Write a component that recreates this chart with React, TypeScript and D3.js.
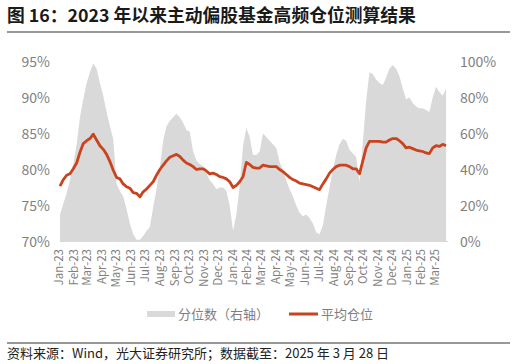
import React from "react";
import * as d3 from "d3";

// ---- data (weekly readings, Tue 2023-01-03 … Tue 2025-03-25) ----
const startDate = new Date(2023, 0, 3);
const weekDates: Date[] = d3.range(117).map((i) => d3.timeDay.offset(startDate, 7 * i));

// 平均仓位 (left axis, %)
const avgPosition: number[] = [
  77.7, 78.6, 79.2, 79.4, 80.1, 80.9, 82.4, 83.6, 84.0, 84.3,
  84.9, 84.1, 83.3, 82.8, 82.1, 81.1, 79.9, 78.9, 78.7, 78.0,
  77.6, 77.4, 76.8, 76.7, 76.2, 76.9, 77.3, 77.8, 78.3, 79.2,
  80.0, 80.6, 81.2, 81.7, 81.9, 82.1, 81.8, 81.3, 80.9, 80.7,
  80.4, 80.0, 80.1, 80.1, 79.8, 79.4, 79.5, 79.3, 79.0, 78.9,
  78.7, 78.3, 77.5, 77.8, 78.3, 79.0, 81.0, 80.7, 80.3, 80.2,
  80.2, 80.6, 80.5, 80.4, 80.4, 80.4, 80.0, 79.7, 79.3, 78.9,
  78.6, 78.4, 78.1, 78.0, 77.9, 77.8, 77.6, 77.4, 77.2, 78.0,
  78.7, 79.5, 80.0, 80.4, 80.6, 80.6, 80.6, 80.4, 80.1, 80.1,
  79.4, 81.2, 83.0, 83.9, 83.9, 83.9, 83.9, 83.8, 83.8, 84.1,
  84.3, 84.3, 84.0, 83.6, 83.0, 83.1, 82.9, 82.7, 82.6, 82.5,
  82.3, 82.2, 83.0, 83.3, 83.2, 83.5, 83.3,
];

// 分位数（右轴） (%)
const percentile: number[] = [
  15, 21, 27, 34, 43, 54, 69, 79, 88, 94,
  99, 96, 88, 81, 72, 64, 57, 32, 28, 25,
  18, 10, 4, 1, 1, 3, 6, 8, 19, 29,
  41, 56, 64, 67, 69, 71, 69, 66, 62, 61,
  50, 45, 43, 42, 38, 34, 32, 29, 30, 30,
  28, 20, 6, 15, 31, 53, 63, 58, 48, 48,
  50, 60, 58, 56, 54, 52, 44, 40, 34, 29,
  25, 20, 16, 14, 15, 13, 10, 5, 4, 9,
  20, 30, 40, 48, 54, 57, 56, 51, 49, 47,
  33, 55, 78, 94, 93, 90, 88, 87, 91, 96,
  98, 96, 92, 85, 79, 80, 77, 75, 74, 74,
  73, 72, 80, 86, 83, 81, 85,
];

const leftTicks = [70, 75, 80, 85, 90, 95];
const rightTicks = [0, 20, 40, 60, 80, 100];
const monthTicks: Date[] = d3.timeMonth.range(new Date(2023, 0, 1), new Date(2025, 2, 2));

const title = "图 16：2023 年以来主动偏股基金高频仓位测算结果";
const legendArea = "分位数（右轴）";
const legendLine = "平均仓位";
const source = "资料来源：Wind，光大证券研究所；数据截至：2025 年 3 月 28 日";

const FONT = "'Noto Sans CJK SC', 'Noto Sans', sans-serif";
const RED = "#C9431F";
const GREY_AREA = "#D9D9D9";
const TEXT_GREY = "#7F7F7F";

export default function App() {
  const W = 516, H = 364;
  const plotL = 60, plotR = 446, plotT = 61.5, plotB = 241.5;

  const x = d3.scaleTime()
    .domain([weekDates[0], weekDates[weekDates.length - 1]])
    .range([plotL, plotR]);
  const yL = d3.scaleLinear().domain([70, 95]).range([plotB, plotT]);
  const yR = d3.scaleLinear().domain([0, 100]).range([plotB, plotT]);

  const areaGen = d3.area<number>()
    .x((_, i) => x(weekDates[i]))
    .y0(plotB)
    .y1((d) => yR(d));
  const lineGen = d3.line<number>()
    .x((_, i) => x(weekDates[i]))
    .y((d) => yL(d));

  const fmtMonth = d3.timeFormat("%b-%y");

  return (
    <svg width={W} height={H} style={{ position: "absolute", left: 0, top: 0, background: "#fff" }} fontFamily={FONT}>
      {/* title */}
      <text x={7} y={22} fontSize={17.8} fontWeight={700} fill="#1a1a1a">{title}</text>
      <line x1={7} x2={510} y1={32} y2={32} stroke="#333" strokeWidth={1} />

      {/* area */}
      <path d={areaGen(percentile) || ""} fill={GREY_AREA} />
      {/* axis baseline */}
      <line x1={plotL} x2={plotR + 2} y1={plotB} y2={plotB} stroke="#D9D9D9" strokeWidth={1} />
      {/* line */}
      <path d={lineGen(avgPosition) || ""} fill="none" stroke={RED} strokeWidth={2.8} strokeLinejoin="round" />

      {/* left ticks */}
      {leftTicks.map((t) => (
        <text key={"l" + t} x={50} y={yL(t)} dy="0.36em" textAnchor="end" fontSize={14} fill={TEXT_GREY}>{t}%</text>
      ))}
      {/* right ticks */}
      {rightTicks.map((t) => (
        <text key={"r" + t} x={460} y={yR(t)} dy="0.36em" textAnchor="start" fontSize={14} fill={TEXT_GREY}>{t}%</text>
      ))}
      {/* x ticks */}
      {monthTicks.map((m) => (
        <text key={m.toISOString()} transform={`translate(${x(m)},249) rotate(-90)`} dy="0.35em" textAnchor="end" fontSize={11.5} fill={TEXT_GREY}>{fmtMonth(m)}</text>
      ))}

      {/* legend */}
      <rect x={147} y={311} width={28} height={6} fill={GREY_AREA} />
      <text x={178} y={314} dy="0.36em" fontSize={13} fill={TEXT_GREY}>{legendArea}</text>
      <line x1={289} x2={318} y1={314} y2={314} stroke={RED} strokeWidth={3} />
      <text x={321} y={314} dy="0.36em" fontSize={13} fill={TEXT_GREY}>{legendLine}</text>

      {/* footer */}
      <line x1={7} x2={510} y1={343} y2={343} stroke="#333" strokeWidth={1} />
      <text x={7} y={358} fontSize={13} fill="#222">{source}</text>
    </svg>
  );
}
